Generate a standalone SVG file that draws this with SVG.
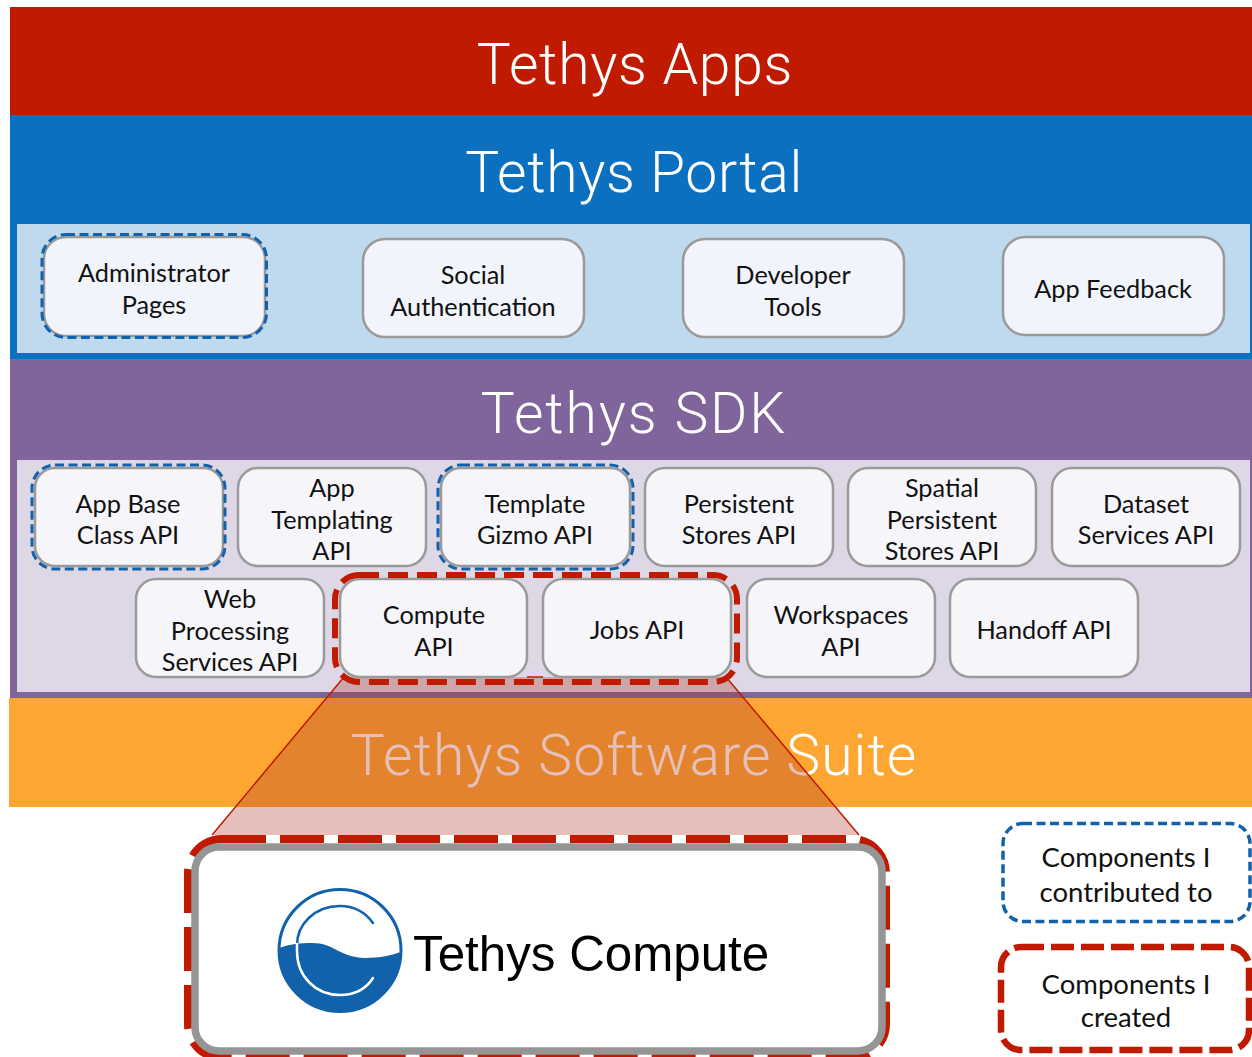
<svg xmlns="http://www.w3.org/2000/svg" width="1252" height="1057" viewBox="0 0 1252 1057">
<style>
.title{font-family:"Roboto","Liberation Sans",sans-serif;font-weight:300;font-size:57px;fill:#fff;text-anchor:middle}
.lbl{font-family:"Lato","Carlito","Noto Sans",sans-serif;font-size:25.3px;fill:#111;text-anchor:middle}
.leg{font-size:27.5px}
.box{fill:#f1f4fb;stroke:#9a9a9a;stroke-width:2.5}
.sbox{fill:#f6f6fa;stroke:#9a9a9a;stroke-width:2.5}
.blue{fill:none;stroke:#1162ab;stroke-width:3;stroke-dasharray:9 4.5}
.red{fill:none;stroke:#c01a00;stroke-width:6;stroke-dasharray:20 9}
</style>
<rect width="1252" height="1057" fill="#fff"/>
<g id="layer-apps"><rect x="10" y="7" width="1242" height="108" fill="#c01a00"/><text class="title" x="635" y="84" letter-spacing=".75">Tethys Apps</text></g>
<g id="layer-portal"><rect x="10" y="115" width="1242" height="244" fill="#0b70c0"/><rect x="17" y="224" width="1233" height="129" fill="#bfd9ee"/><text class="title" x="634" y="192" letter-spacing=".65">Tethys Portal</text></g>
<g id="layer-sdk"><rect x="10" y="359" width="1242" height="339" fill="#80649c"/><rect x="17" y="460" width="1233" height="232" fill="#ded8e6"/><text class="title" x="634" y="433" letter-spacing="1.9">Tethys SDK</text></g>
<g id="layer-suite"><rect x="9" y="698" width="1243" height="109" fill="#fda732"/><text class="title" x="634" y="775" letter-spacing="1.05">Tethys Software Suite</text></g>
<g id="connectors"><path d="M344 677H726L859 835H212Z" fill="#ab3424" fill-opacity=".31" stroke="none"/><path d="M527 677H543M344 677L212 835M726 677L859 835" fill="none" stroke="#c01a00" stroke-width="1.5"/></g>
<g id="administrator-pages"><rect class="box" x="44" y="237" width="221" height="99" rx="22"/><rect class="blue" x="42" y="234.500" width="224.500" height="103" rx="24"/><text class="lbl" x="154" y="282">Administrator</text><text class="lbl" x="154" y="314">Pages</text></g>
<g id="social-authentication"><rect class="box" x="363" y="239" width="221" height="98" rx="22"/><text class="lbl" x="473" y="284">Social</text><text class="lbl" x="473" y="316">Authentication</text></g>
<g id="developer-tools"><rect class="box" x="683" y="239" width="221" height="98" rx="22"/><text class="lbl" x="793" y="284">Developer</text><text class="lbl" x="793" y="316">Tools</text></g>
<g id="app-feedback"><rect class="box" x="1003" y="237" width="221" height="98" rx="22"/><text class="lbl" x="1113" y="298">App Feedback</text></g>
<g id="app-base"><rect class="sbox" x="35" y="468" width="188" height="98" rx="20"/><rect class="blue" x="32" y="465" width="193" height="104" rx="23"/><text class="lbl" x="128" y="513">App Base</text><text class="lbl" x="128" y="544">Class API</text></g>
<g id="app-templating"><rect class="sbox" x="238" y="468" width="188" height="98" rx="20"/><text class="lbl" x="332" y="497">App</text><text class="lbl" x="332" y="529">Templating</text><text class="lbl" x="332" y="560">API</text></g>
<g id="template-gizmo"><rect class="sbox" x="441" y="468" width="189" height="98" rx="20"/><rect class="blue" x="438" y="465" width="195" height="104" rx="23"/><text class="lbl" x="535" y="513">Template</text><text class="lbl" x="535" y="544">Gizmo API</text></g>
<g id="persistent-stores"><rect class="sbox" x="645" y="468" width="188" height="98" rx="20"/><text class="lbl" x="739" y="513">Persistent</text><text class="lbl" x="739" y="544">Stores API</text></g>
<g id="spatial-persistent-stores"><rect class="sbox" x="848" y="468" width="188" height="98" rx="20"/><text class="lbl" x="942" y="497">Spatial</text><text class="lbl" x="942" y="529">Persistent</text><text class="lbl" x="942" y="560">Stores API</text></g>
<g id="dataset-services"><rect class="sbox" x="1052" y="468" width="188" height="98" rx="20"/><text class="lbl" x="1146" y="513">Dataset</text><text class="lbl" x="1146" y="544">Services API</text></g>
<g id="web-processing"><rect class="sbox" x="136" y="579" width="188" height="98" rx="20"/><text class="lbl" x="230" y="608">Web</text><text class="lbl" x="230" y="640">Processing</text><text class="lbl" x="230" y="671">Services API</text></g>
<g id="compute-api"><rect class="sbox" x="340" y="579" width="187" height="98" rx="20"/><text class="lbl" x="434" y="624">Compute</text><text class="lbl" x="434" y="656">API</text></g>
<g id="jobs-api"><rect class="sbox" x="543" y="579" width="188" height="98" rx="20"/><text class="lbl" x="637" y="639">Jobs API</text></g>
<g id="created-group"><rect class="red" x="335" y="575" width="402" height="107" rx="24"/></g>
<g id="workspaces-api"><rect class="sbox" x="747" y="579" width="188" height="98" rx="20"/><text class="lbl" x="841" y="624">Workspaces</text><text class="lbl" x="841" y="656">API</text></g>
<g id="handoff-api"><rect class="sbox" x="950" y="579" width="188" height="98" rx="20"/><text class="lbl" x="1044" y="639">Handoff API</text></g>
<g id="tethys-compute">
<rect x="188" y="839" width="698" height="219" rx="34" fill="none" stroke="#c01a00" stroke-width="8" stroke-dasharray="44 14"/>
<rect x="195" y="847" width="687" height="204" rx="24" fill="#fff" stroke="#959595" stroke-width="7.500"/>
<ellipse cx="340" cy="950.500" rx="61" ry="61" fill="#fff" stroke="#1162ab" stroke-width="3"/>
<path d="M279 948C290 944 300 943 312 943C335 943 338 957 365 958C380 958 392 955 401 952A61 61 0 0 1 279 948Z" fill="#1162ab"/>
<path d="M373 923C365 912 353 906 340 906C314 906 297 925 297 945" fill="none" stroke="#1162ab" stroke-width="2.500" stroke-linecap="round"/>
<path d="M297 944V951C297 977 316 995 340 995C354 995 366 989 373 978" fill="none" stroke="#fff" stroke-width="2.500" stroke-linecap="round"/>
<text x="413" y="971" style="font-family:'Liberation Sans',Arial,sans-serif;font-size:49.300px;fill:#000">Tethys Compute</text>
</g>
<g id="legend-contributed"><rect x="1003" y="823.500" width="247" height="98" rx="20" fill="#fff" stroke="#1162ab" stroke-width="3.500" stroke-dasharray="9 4.500"/><text class="lbl leg" x="1126" y="867">Components I</text><text class="lbl leg" x="1126" y="902">contributed to</text></g>
<g id="legend-created"><rect x="1001" y="947" width="248" height="103" rx="20" fill="#fff" stroke="#c01a00" stroke-width="6.500" stroke-dasharray="23 7"/><text class="lbl leg" x="1126" y="994">Components I</text><text class="lbl leg" x="1126" y="1027">created</text></g>
</svg>
